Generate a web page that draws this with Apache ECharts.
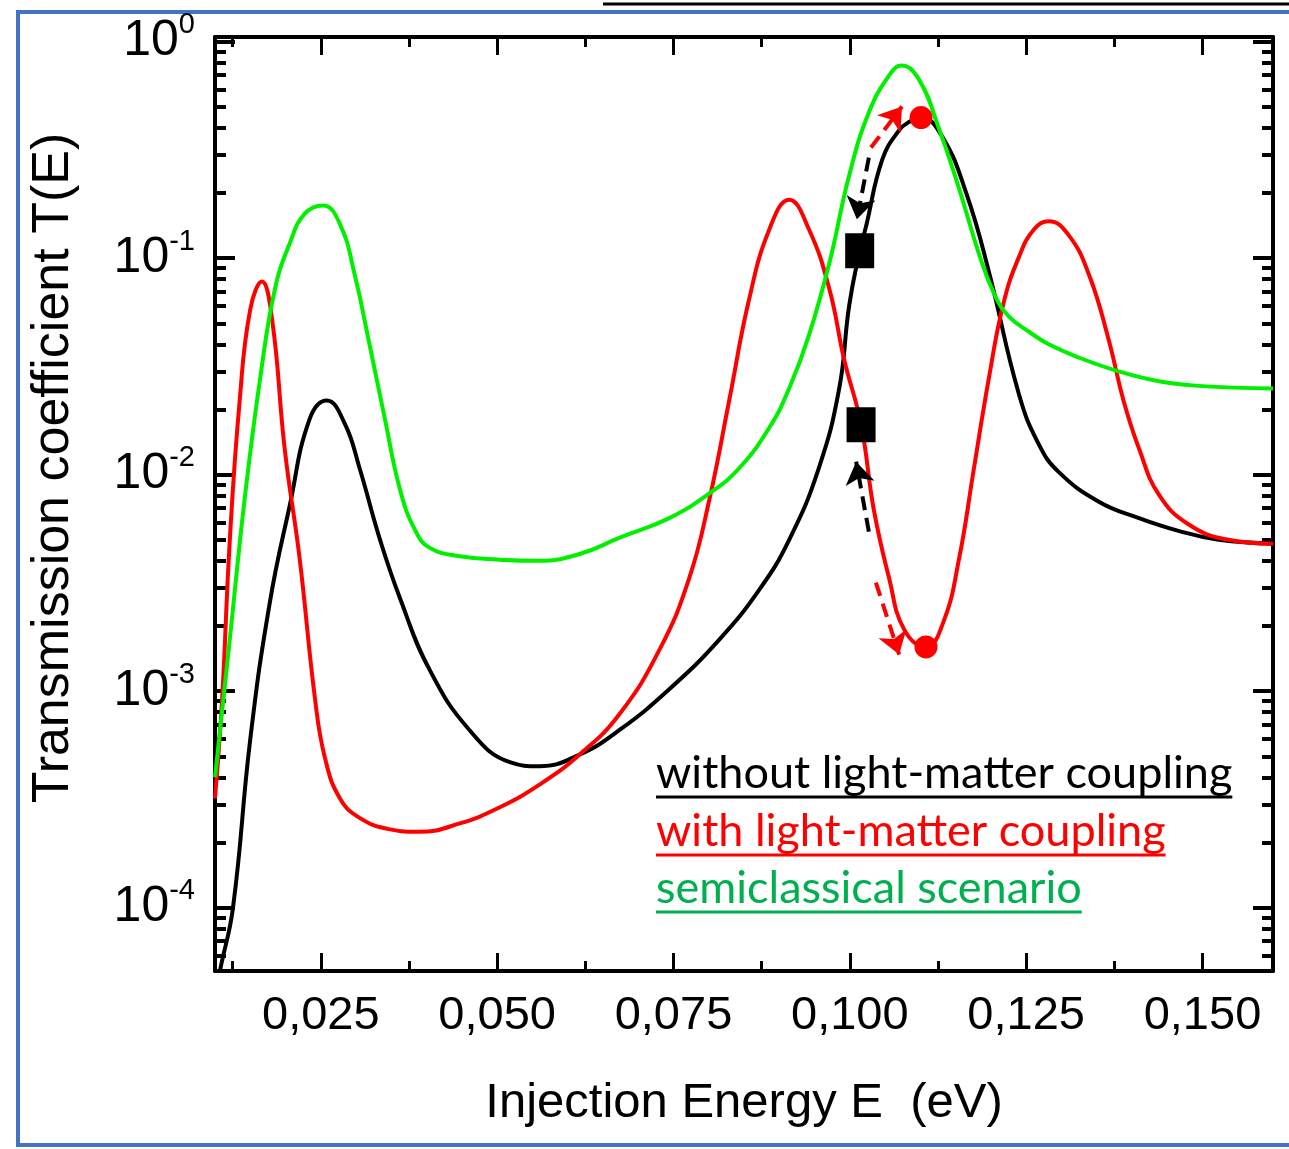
<!DOCTYPE html>
<html>
<head>
<meta charset="utf-8">
<script src="https://cdn.jsdelivr.net/npm/echarts@6/dist/echarts.min.js"></script>
<style>
  html, body { margin: 0; padding: 0; background: #fff; }
  #chart { width: 1289px; height: 1149px; }
</style>
</head>
<body>
<div id="chart"></div>
<script>
// Transmission coefficient vs injection energy.
const blackE = [0.01042, 0.0107, 0.01255, 0.0150, 0.0178, 0.0206, 0.0234, 0.02586, 0.0284, 0.0305, 0.0334, 0.0362, 0.0404, 0.0461, 0.0518, 0.0560, 0.0617, 0.0673, 0.0744, 0.0815, 0.0872, 0.0914, 0.0956, 0.0985, 0.0999, 0.1014, 0.1023, 0.1046, 0.1070, 0.1084, 0.1101, 0.1131, 0.1165, 0.1197, 0.1240, 0.1268, 0.1296, 0.1353, 0.1410, 0.1466, 0.1523, 0.1600];
const blackT = [4.4e-5, 5.1e-5, 1.0e-4, 6.0e-4, 2.6e-3, 7.2e-3, 0.0180, 0.0220, 0.0172, 0.0107, 0.0050, 0.0027, 1.26e-3, 6.6e-4, 4.7e-4, 4.5e-4, 5.1e-4, 6.6e-4, 1.02e-3, 1.73e-3, 2.95e-3, 5.0e-3, 0.0107, 0.025, 0.060, 0.108, 0.140, 0.285, 0.39, 0.425, 0.446, 0.364, 0.20, 0.087, 0.0234, 0.0138, 0.0103, 0.0075, 0.0063, 0.0055, 0.0050, 0.0048];

const redE = [0.0100, 0.0110, 0.0121, 0.0135, 0.0150, 0.01665, 0.0181, 0.0199, 0.0220, 0.0242, 0.0256, 0.0277, 0.0305, 0.0348, 0.0390, 0.0447, 0.0503, 0.0560, 0.0617, 0.0673, 0.0730, 0.0772, 0.0801, 0.0829, 0.0857, 0.0886, 0.0914, 0.0942, 0.0971, 0.0992, 0.1016, 0.1034, 0.1056, 0.1077, 0.1108, 0.1133, 0.1155, 0.1176, 0.1197, 0.1218, 0.1240, 0.1261, 0.1282, 0.1310, 0.1339, 0.1367, 0.1388, 0.1410, 0.1438, 0.1480, 0.1537, 0.1600];
const redT = [3.2e-4, 9.1e-4, 5.0e-3, 0.022, 0.058, 0.078, 0.052, 0.013, 0.0041, 9.1e-4, 4.9e-4, 3.2e-4, 2.6e-4, 2.3e-4, 2.24e-4, 2.45e-4, 2.9e-4, 3.7e-4, 5.1e-4, 7.8e-4, 1.55e-3, 3.3e-3, 7.7e-3, 0.022, 0.064, 0.136, 0.186, 0.136, 0.072, 0.034, 0.017, 0.0069, 3.3e-3, 1.93e-3, 1.6e-3, 2.1e-3, 4.1e-3, 0.0107, 0.0277, 0.062, 0.1016, 0.1355, 0.148, 0.128, 0.084, 0.042, 0.022, 0.0132, 0.0081, 0.0059, 0.0050, 0.0048];

const greenE = [0.0100, 0.0121, 0.0142, 0.0164, 0.0185, 0.0206, 0.0227, 0.0253, 0.0277, 0.0298, 0.0319, 0.0341, 0.0362, 0.0383, 0.0404, 0.0447, 0.0503, 0.0560, 0.0617, 0.0673, 0.0744, 0.0801, 0.0843, 0.0886, 0.0914, 0.0942, 0.0971, 0.0999, 0.1027, 0.1056, 0.1073, 0.1098, 0.1126, 0.1155, 0.1183, 0.1205, 0.1225, 0.1254, 0.1282, 0.1325, 0.1381, 0.1438, 0.1494, 0.1600];
const greenT = [4.0e-4, 1.74e-3, 7.7e-3, 0.0278, 0.072, 0.117, 0.16, 0.175, 0.144, 0.084, 0.040, 0.018, 8.6e-3, 5.6e-3, 4.6e-3, 4.2e-3, 4.05e-3, 4.0e-3, 4.3e-3, 5.1e-3, 6.3e-3, 8.2e-3, 0.0107, 0.0165, 0.025, 0.044, 0.095, 0.24, 0.47, 0.70, 0.775, 0.668, 0.40, 0.209, 0.105, 0.068, 0.054, 0.0457, 0.040, 0.0347, 0.030, 0.027, 0.0257, 0.025];

// marked states: squares on the black/red crossings, dots at the red extrema
const squarePoints = [[0.1014, 0.108], [0.1016, 0.017]];
const dotPoints = [[0.1101, 0.446], [0.1108, 0.0016]];
// dashed arrows [from, to]
const redArrows = [[[0.1030, 0.324], [0.1074, 0.501]], [[0.1037, 0.00317], [0.1070, 0.001475]]];
const blackArrows = [[[0.1027, 0.291], [0.1010, 0.151]], [[0.1027, 0.00545], [0.1009, 0.01148]]];

const xMajor = [0.025, 0.050, 0.075, 0.100, 0.125, 0.150];
const xMinor = [0.0125, 0.0375, 0.0625, 0.0875, 0.1125, 0.1375];
const yMajor = [1e-4, 1e-3, 1e-2, 1e-1, 1];
const yMinor = [];
[1e-5, 1e-4, 1e-3, 1e-2, 1e-1].forEach(d => { for (let k = 2; k <= 9; k++) yMinor.push(+(k * d).toPrecision(3)); });

const legendItems = ["without light-matter coupling", "with light-matter coupling", "semiclassical scenario"];
const legendColors = ["#000000", "#ff0000", "#00b050"];

const X_MIN = 0.01, X_MAX = 0.16, Y_MIN = 5.1e-5, Y_MAX = 1.05;
const AXIS_FONT = "Liberation Sans";

const zip = (xs, ys) => xs.map((x, i) => [x, ys[i]]);

function xAxisOf(pos, ticks, len, labels) {
  return {
    type: "value", position: pos, min: X_MIN, max: X_MAX,
    axisLine: { show: len > 12, onZero: false, lineStyle: { color: "#000", width: 4 } },
    axisTick: { show: true, inside: true, length: len, customValues: ticks, lineStyle: { color: "#000", width: 3 } },
    axisLabel: labels ? {
      show: true, customValues: ticks, margin: 22, color: "#000",
      fontFamily: AXIS_FONT, fontSize: 47,
      formatter: v => v.toFixed(3).replace(".", ","),
    } : { show: false },
    splitLine: { show: false },
  };
}

function yAxisOf(pos, ticks, len, labels) {
  return {
    type: "log", logBase: 10, position: pos, min: Y_MIN, max: Y_MAX,
    axisLine: { show: len > 12, onZero: false, lineStyle: { color: "#000", width: 4 } },
    axisTick: { show: true, inside: true, length: len, customValues: ticks, lineStyle: { color: "#000", width: 4 } },
    axisLabel: labels ? {
      show: true, customValues: ticks, margin: 20, color: "#000",
      formatter: v => "{b|10}{s|" + Math.round(Math.log10(v)) + "}",
      rich: {
        b: { fontFamily: AXIS_FONT, fontSize: 50, lineHeight: 62, color: "#000" },
        s: { fontFamily: AXIS_FONT, fontSize: 29, lineHeight: 30, verticalAlign: "top", color: "#000" },
      },
    } : { show: false },
    splitLine: { show: false },
  };
}

const chart = echarts.init(document.getElementById("chart"), null, { renderer: "canvas" });

// underline widths follow the rendered legend text
const measureCtx = document.createElement("canvas").getContext("2d");
const LEGEND_FONT = "45px Lato";
measureCtx.font = LEGEND_FONT;
const legendX = 656, legendBase = [788, 846, 903];
const legendGraphics = [];
legendItems.forEach((txt, i) => {
  const w = measureCtx.measureText(txt).width;
  legendGraphics.push({
    type: "text", x: legendX, y: legendBase[i] - 15, z: 100,
    style: { text: txt, font: LEGEND_FONT, fill: legendColors[i], align: "left", verticalAlign: "middle" },
  });
  legendGraphics.push({
    type: "line", z: 100,
    shape: { x1: legendX, y1: legendBase[i] + 9, x2: legendX + w, y2: legendBase[i] + 9 },
    style: { stroke: legendColors[i], lineWidth: 3 },
  });
});

const lineSeries = (name, xs, ys, color) => ({
  name, type: "line", data: zip(xs, ys), xAxisIndex: 0, yAxisIndex: 0,
  smooth: 0.45, showSymbol: false, symbol: "none", clip: true,
  lineStyle: { color, width: 4 }, itemStyle: { color },
  z: 3,
});

const arrowSeries = (name, pairs, color) => ({
  name, type: "lines", coordinateSystem: "cartesian2d", xAxisIndex: 0, yAxisIndex: 0,
  data: pairs.map(p => ({ coords: p })),
  symbol: ["none", "arrow"], symbolSize: [15, 22],
  lineStyle: { color, width: 4, type: [14, 8], opacity: 1, curveness: 0 },
  z: 6,
});

chart.setOption({
  backgroundColor: "#ffffff",
  animation: false,
  grid: { left: 215, right: 16, top: 37, bottom: 178, containLabel: false },
  xAxis: [
    Object.assign(xAxisOf("bottom", xMajor, 18, true), {
      name: "Injection Energy E  (eV)", nameLocation: "middle", nameGap: 108,
      nameTextStyle: { fontFamily: AXIS_FONT, fontSize: 49, color: "#000" },
    }),
    xAxisOf("bottom", xMinor, 10, false),
    xAxisOf("top", xMajor, 18, false),
    xAxisOf("top", xMinor, 10, false),
  ],
  yAxis: [
    yAxisOf("left", yMajor, 20, true),
    yAxisOf("left", yMinor, 11, false),
    yAxisOf("right", yMajor, 20, false),
    yAxisOf("right", yMinor, 11, false),
  ],
  graphic: [
    // outer blue frame and the clipped rule above it
    { type: "rect", z: 0, shape: { x: 18, y: 12, width: 1300, height: 1133 }, style: { fill: "none", stroke: "#4472c4", lineWidth: 4 } },
    { type: "line", z: 0, shape: { x1: 603, y1: 4, x2: 1289, y2: 4 }, style: { stroke: "#000", lineWidth: 3 } },
    {
      type: "text", x: 54, y: 468, rotation: Math.PI / 2, z: 10,
      style: { text: "Transmission coefficient T(E)", font: "52px Liberation Sans", fill: "#000", align: "center", verticalAlign: "middle" },
    },
  ].concat(legendGraphics),
  series: [
    lineSeries("without light-matter coupling", blackE, blackT, "#000000"),
    lineSeries("with light-matter coupling", redE, redT, "#ff0000"),
    lineSeries("semiclassical scenario", greenE, greenT, "#00f000"),
    arrowSeries("arrows red", redArrows, "#ff0000"),
    arrowSeries("arrows black", blackArrows, "#000000"),
    {
      name: "states", type: "scatter", xAxisIndex: 0, yAxisIndex: 0,
      data: squarePoints, symbol: "rect", symbolSize: [29, 35],
      itemStyle: { color: "#000", opacity: 1 }, z: 7,
    },
    {
      name: "extrema", type: "scatter", xAxisIndex: 0, yAxisIndex: 0,
      data: dotPoints, symbol: "circle", symbolSize: 23,
      itemStyle: { color: "#ff0000", opacity: 1 }, z: 8,
    },
  ],
});
</script>
</body>
</html>
